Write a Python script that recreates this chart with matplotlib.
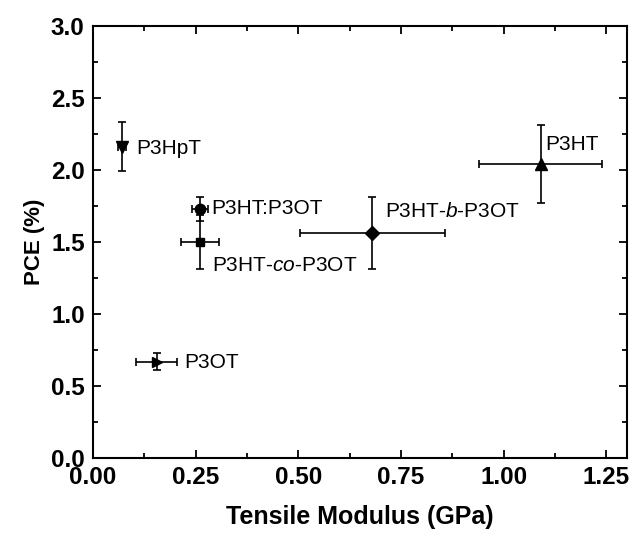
import matplotlib
matplotlib.use('Agg')
import matplotlib.pyplot as plt
from matplotlib.ticker import MultipleLocator

plt.rcParams['font.family'] = 'Liberation Sans'
plt.rcParams['mathtext.fontset'] = 'custom'
plt.rcParams['mathtext.rm'] = 'Liberation Sans'
plt.rcParams['mathtext.it'] = 'Liberation Sans:italic'

# polymer samples
names = ['P3HpT', 'P3HT:P3OT', 'P3HT-$\\it{co}$-P3OT', 'P3HT-$\\it{b}$-P3OT', 'P3HT', 'P3OT']
modulus = [0.07, 0.26, 0.26, 0.68, 1.09, 0.155]
modulus_err = [0.01, 0.02, 0.047, 0.176, 0.15, 0.05]
pce = [2.16, 1.73, 1.50, 1.56, 2.04, 0.67]
pce_err = [0.17, 0.085, 0.19, 0.25, 0.27, 0.06]
markers = ['v', 'o', 's', 'D', '^', '>']
msizes = [8, 7.5, 6, 7.5, 8, 7]

# label positions
lab_x = [0.105, 0.289, 0.289, 0.711, 1.100, 0.222]
lab_y = [2.15, 1.73, 1.34, 1.71, 2.18, 0.66]

fig = plt.figure(figsize=(6.33, 5.36), dpi=100)
ax = fig.add_axes([0.147, 0.1455, 0.8435, 0.806])

for i in range(len(names)):
    ax.errorbar(modulus[i], pce[i], xerr=modulus_err[i], yerr=pce_err[i],
                fmt=markers[i], color='black', ms=msizes[i], ecolor='black',
                elinewidth=1.2, capsize=3, capthick=1.2)
    ax.text(lab_x[i], lab_y[i], names[i], fontsize=15, va='center', ha='left')

ax.set_xlim(0, 1.3)
ax.set_ylim(0, 3.0)
ax.xaxis.set_major_locator(MultipleLocator(0.25))
ax.xaxis.set_minor_locator(MultipleLocator(0.125))
ax.yaxis.set_major_locator(MultipleLocator(0.5))
ax.yaxis.set_minor_locator(MultipleLocator(0.25))
ax.xaxis.set_major_formatter(plt.FormatStrFormatter('%.2f'))
ax.yaxis.set_major_formatter(plt.FormatStrFormatter('%.1f'))

ax.tick_params(which='both', direction='in', top=True, right=True, width=1.3)
ax.tick_params(which='major', length=6, labelsize=17.5, pad=6)
ax.tick_params(which='minor', length=3.5)
for lab in ax.get_xticklabels() + ax.get_yticklabels():
    lab.set_fontweight('bold')
for s in ax.spines.values():
    s.set_linewidth(1.5)

ax.set_xlabel('Tensile Modulus (GPa)', fontsize=18, fontweight='bold', labelpad=11)
ax.set_ylabel('PCE (%)', fontsize=16, fontweight='bold', labelpad=4)

fig.savefig('out.png', dpi=100)
